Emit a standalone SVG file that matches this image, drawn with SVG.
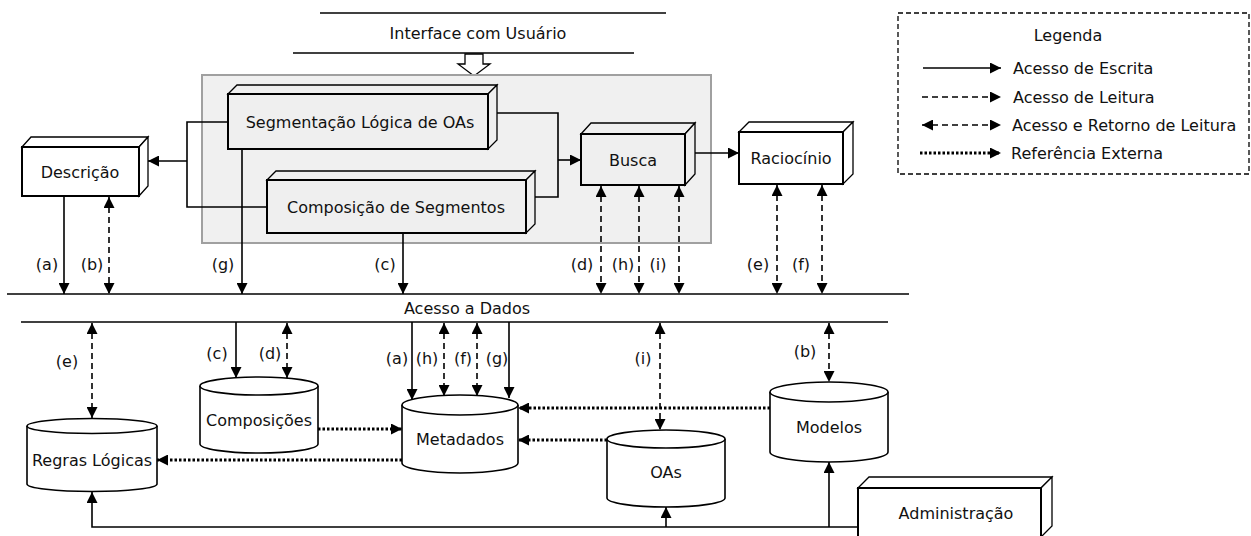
<svg xmlns="http://www.w3.org/2000/svg" width="1251" height="536" viewBox="0 0 1251 536">
<style>
text{font-family:"DejaVu Sans",Verdana,sans-serif;font-size:16px;fill:#111;text-anchor:middle}
.lg{text-anchor:start}
.ln{stroke:#000;stroke-width:1.6;fill:none}
.ds{stroke:#000;stroke-width:1.6;fill:none;stroke-dasharray:6 4}
.dt{stroke:#000;stroke-width:3;fill:none;stroke-dasharray:2.5 2}
.front{stroke:#000;stroke-width:2}
.face{stroke:#000;stroke-width:1.3}
.w{fill:#fff}
.g{fill:#efefef}
.cyl{fill:#fff;stroke:#000;stroke-width:1.6}
</style>
<defs>
<marker id="ah" viewBox="0 0 10 10" refX="10" refY="5" markerWidth="11" markerHeight="11" orient="auto-start-reverse" markerUnits="userSpaceOnUse"><path d="M0,0 L10,5 L0,10 z" fill="#000"/></marker>
</defs>

<g id="interface">
<line x1="320" y1="13" x2="666" y2="13" class="ln"/>
<line x1="293" y1="53" x2="634" y2="53" class="ln"/>
<text x="478" y="39">Interface com Usuário</text>
<polygon points="465,54 483,54 483,64 490,64 474,76 458,64 465,64" fill="#fff" stroke="#000" stroke-width="1.3"/>
</g>

<g id="container">
<rect x="202" y="75" width="509" height="168" fill="#f0f0f0" stroke="#a0a0a0" stroke-width="2"/>
</g>

<g id="segmentacao">
<polygon class="g face" points="228,94 237,85 497,85 488,94"/>
<polygon class="g face" points="488,94 497,85 497,140 488,149"/>
<rect class="g front" x="228" y="94" width="260" height="55"/>
<text x="360" y="128">Segmentação Lógica de OAs</text>
</g>

<g id="composicao">
<polygon class="g face" points="267,180 276,171 535,171 526,180"/>
<polygon class="g face" points="526,180 535,171 535,224 526,233"/>
<rect class="g front" x="267" y="180" width="259" height="53"/>
<text x="396" y="213">Composição de Segmentos</text>
</g>

<g id="descricao">
<polygon class="w face" points="22,147 31,137 148,137 139,147"/>
<polygon class="w face" points="139,147 148,137 148,186 139,196"/>
<rect class="w front" x="22" y="147" width="117" height="49"/>
<text x="80" y="178">Descrição</text>
</g>

<g id="busca">
<polygon class="g face" points="581,134 591,123 695,123 685,134"/>
<polygon class="g face" points="685,134 695,123 695,174 685,185"/>
<rect class="g front" x="581" y="134" width="104" height="51"/>
<text x="633" y="166">Busca</text>
</g>

<g id="raciocinio">
<polygon class="w face" points="739,132 749,122 853,122 843,132"/>
<polygon class="w face" points="843,132 853,122 853,174 843,184"/>
<rect class="w front" x="739" y="132" width="104" height="52"/>
<text x="791" y="164">Raciocínio</text>
</g>

<g id="administracao">
<polygon class="w face" points="858,488 869,477 1052,477 1041,488"/>
<polygon class="w face" points="1041,488 1052,477 1052,526 1041,537"/>
<rect class="w front" x="858" y="488" width="183" height="60"/>
<text x="956" y="519">Administração</text>
</g>

<g id="acesso">
<line x1="7" y1="294" x2="909" y2="294" class="ln"/>
<line x1="21" y1="322" x2="888" y2="322" class="ln"/>
<text x="467" y="314">Acesso a Dados</text>
</g>

<g id="regras">
<path class="cyl" d="M27,426 L27,484 A65,7.5 0 0 0 157,484 L157,426"/>
<ellipse class="cyl" cx="92" cy="426" rx="65" ry="7.5"/>
<text x="92" y="466">Regras Lógicas</text>
</g>
<g id="composicoes">
<path class="cyl" d="M200,386 L200,444 A59,9 0 0 0 318,444 L318,386"/>
<ellipse class="cyl" cx="259" cy="386" rx="59" ry="9"/>
<text x="259" y="426">Composições</text>
</g>
<g id="metadados">
<path class="cyl" d="M402,405 L402,463 A58,10 0 0 0 518,463 L518,405"/>
<ellipse class="cyl" cx="460" cy="405" rx="58" ry="10"/>
<text x="460" y="445">Metadados</text>
</g>
<g id="oas">
<path class="cyl" d="M607,439 L607,498 A59,9 0 0 0 725,498 L725,439"/>
<ellipse class="cyl" cx="666" cy="439" rx="59" ry="9"/>
<text x="666" y="478">OAs</text>
</g>
<g id="modelos">
<path class="cyl" d="M770,392 L770,452 A59,10 0 0 0 888,452 L888,392"/>
<ellipse class="cyl" cx="829" cy="392" rx="59" ry="10"/>
<text x="829" y="433">Modelos</text>
</g>

<g id="connectors">
<!-- top block connections -->
<polyline class="ln" points="228,122 187,122 187,207 267,207"/>
<line class="ln" x1="187" y1="161" x2="148" y2="161" marker-end="url(#ah)"/>
<polyline class="ln" points="497,113 558,113 558,197 535,197"/>
<line class="ln" x1="558" y1="160" x2="581" y2="160" marker-end="url(#ah)"/>
<line class="ln" x1="695" y1="153" x2="739" y2="153" marker-end="url(#ah)"/>
<!-- to Acesso a Dados -->
<line class="ln" x1="64" y1="196" x2="64" y2="294" marker-end="url(#ah)"/>
<line class="ds" x1="109" y1="197" x2="109" y2="294" marker-start="url(#ah)" marker-end="url(#ah)"/>
<line class="ln" x1="242" y1="149" x2="242" y2="294" marker-end="url(#ah)"/>
<line class="ln" x1="403" y1="233" x2="403" y2="294" marker-end="url(#ah)"/>
<line class="ds" x1="601" y1="186" x2="601" y2="294" marker-start="url(#ah)" marker-end="url(#ah)"/>
<line class="ds" x1="639" y1="186" x2="639" y2="294" marker-start="url(#ah)" marker-end="url(#ah)"/>
<line class="ds" x1="679" y1="186" x2="679" y2="294" marker-start="url(#ah)" marker-end="url(#ah)"/>
<line class="ds" x1="777" y1="185" x2="777" y2="294" marker-start="url(#ah)" marker-end="url(#ah)"/>
<line class="ds" x1="822" y1="185" x2="822" y2="294" marker-start="url(#ah)" marker-end="url(#ah)"/>
<!-- from Acesso a Dados -->
<line class="ds" x1="92" y1="323" x2="92" y2="418" marker-start="url(#ah)" marker-end="url(#ah)"/>
<line class="ln" x1="236" y1="322" x2="236" y2="378" marker-end="url(#ah)"/>
<line class="ds" x1="287" y1="323" x2="287" y2="378" marker-start="url(#ah)" marker-end="url(#ah)"/>
<line class="ln" x1="412" y1="322" x2="412" y2="400" marker-end="url(#ah)"/>
<line class="ds" x1="444" y1="323" x2="444" y2="396" marker-start="url(#ah)" marker-end="url(#ah)"/>
<line class="ds" x1="477" y1="323" x2="477" y2="396" marker-start="url(#ah)" marker-end="url(#ah)"/>
<line class="ln" x1="509" y1="322" x2="509" y2="398" marker-end="url(#ah)"/>
<line class="ds" x1="660" y1="323" x2="660" y2="430" marker-start="url(#ah)" marker-end="url(#ah)"/>
<line class="ds" x1="829" y1="323" x2="829" y2="382" marker-start="url(#ah)" marker-end="url(#ah)"/>
<!-- external references -->
<line class="dt" x1="318" y1="429" x2="402" y2="429" marker-end="url(#ah)"/>
<line class="dt" x1="402" y1="460" x2="157" y2="460" marker-end="url(#ah)"/>
<line class="dt" x1="770" y1="408" x2="518" y2="408" marker-end="url(#ah)"/>
<line class="dt" x1="607" y1="440" x2="518" y2="440" marker-end="url(#ah)"/>
<!-- administracao -->
<polyline class="ln" points="858,527 92,527 92,492" marker-end="url(#ah)"/>
<line class="ln" x1="666" y1="527" x2="666" y2="507" marker-end="url(#ah)"/>
<line class="ln" x1="829" y1="527" x2="829" y2="462" marker-end="url(#ah)"/>
</g>

<g id="labels">
<text x="47" y="270">(a)</text>
<text x="92" y="270">(b)</text>
<text x="223" y="270">(g)</text>
<text x="385" y="270">(c)</text>
<text x="582" y="270">(d)</text>
<text x="623" y="270">(h)</text>
<text x="658" y="270">(i)</text>
<text x="758" y="270">(e)</text>
<text x="801" y="270">(f)</text>
<text x="67" y="367">(e)</text>
<text x="217" y="359">(c)</text>
<text x="270" y="359">(d)</text>
<text x="397" y="364">(a)</text>
<text x="427" y="364">(h)</text>
<text x="463" y="364">(f)</text>
<text x="497" y="364">(g)</text>
<text x="643" y="364">(i)</text>
<text x="805" y="357">(b)</text>
</g>

<g id="legenda">
<rect x="898" y="13" width="351" height="161" fill="none" stroke="#000" stroke-width="1.3" stroke-dasharray="5 3"/>
<text x="1068" y="41">Legenda</text>
<line class="ln" x1="923" y1="68" x2="1001" y2="68" marker-end="url(#ah)"/>
<text class="lg" x="1013" y="74">Acesso de Escrita</text>
<line class="ds" x1="922" y1="97" x2="1001" y2="97" marker-end="url(#ah)"/>
<text class="lg" x="1013" y="103">Acesso de Leitura</text>
<line class="ds" x1="922" y1="125" x2="1001" y2="125" marker-start="url(#ah)" marker-end="url(#ah)"/>
<text class="lg" x="1012" y="131">Acesso e Retorno de Leitura</text>
<line class="dt" x1="920" y1="153" x2="1001" y2="153" marker-end="url(#ah)"/>
<text class="lg" x="1011" y="159">Referência Externa</text>
</g>
</svg>
